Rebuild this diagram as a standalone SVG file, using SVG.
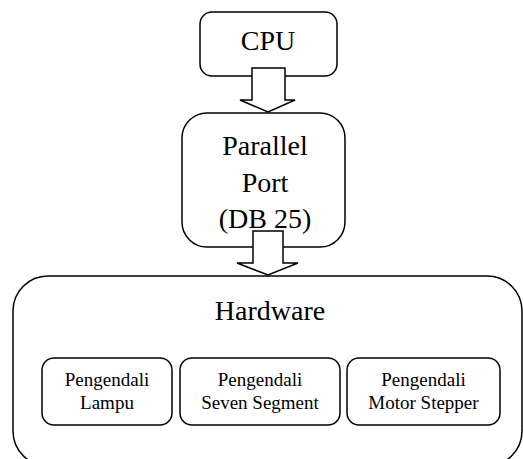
<svg xmlns="http://www.w3.org/2000/svg" width="523" height="459" viewBox="0 0 523 459">
<style>
.box{fill:#fff;stroke:#000;stroke-width:1.5}
.arrow{fill:#fff;stroke:#000;stroke-width:1.5;stroke-linejoin:miter}
.big{font-family:"Liberation Serif","Times New Roman",serif;font-size:28px;fill:#000;text-anchor:middle}
.small{font-family:"Liberation Serif","Times New Roman",serif;font-size:19px;fill:#000;text-anchor:middle}
</style>
<rect width="523" height="459" fill="#fff"/>
<g id="hardware">
<rect class="box" x="13" y="276" width="509" height="190" rx="35"/>
<text class="big" x="270" y="320">Hardware</text>
</g>
<g id="lampu">
<rect class="box" x="42" y="358" width="130" height="67" rx="12"/>
<text class="small" x="107" y="386">Pengendali</text>
<text class="small" x="107" y="409">Lampu</text>
</g>
<g id="seven">
<rect class="box" x="180" y="358" width="160" height="67" rx="12"/>
<text class="small" x="260" y="386">Pengendali</text>
<text class="small" x="260" y="409">Seven Segment</text>
</g>
<g id="motor">
<rect class="box" x="347" y="358" width="153" height="67" rx="12"/>
<text class="small" x="423.5" y="386">Pengendali</text>
<text class="small" x="423.5" y="409">Motor Stepper</text>
</g>
<g id="cpu">
<rect class="box" x="200" y="12" width="137" height="64" rx="12"/>
<text class="big" x="268" y="50">CPU</text>
</g>
<g id="port">
<rect class="box" x="182" y="113" width="163" height="134" rx="25"/>
<text class="big" x="265" y="155">Parallel</text>
<text class="big" x="265" y="192">Port</text>
<text class="big" x="265" y="228">(DB 25)</text>
</g>
<g id="connectors">
<polygon class="arrow" points="252,68 285,68 285,100 295,100 268,112 240,100 252,100"/>
<polygon class="arrow" points="253,231 283,231 283,263 298,263 268,275 237,263 253,263"/>
</g>
</svg>
